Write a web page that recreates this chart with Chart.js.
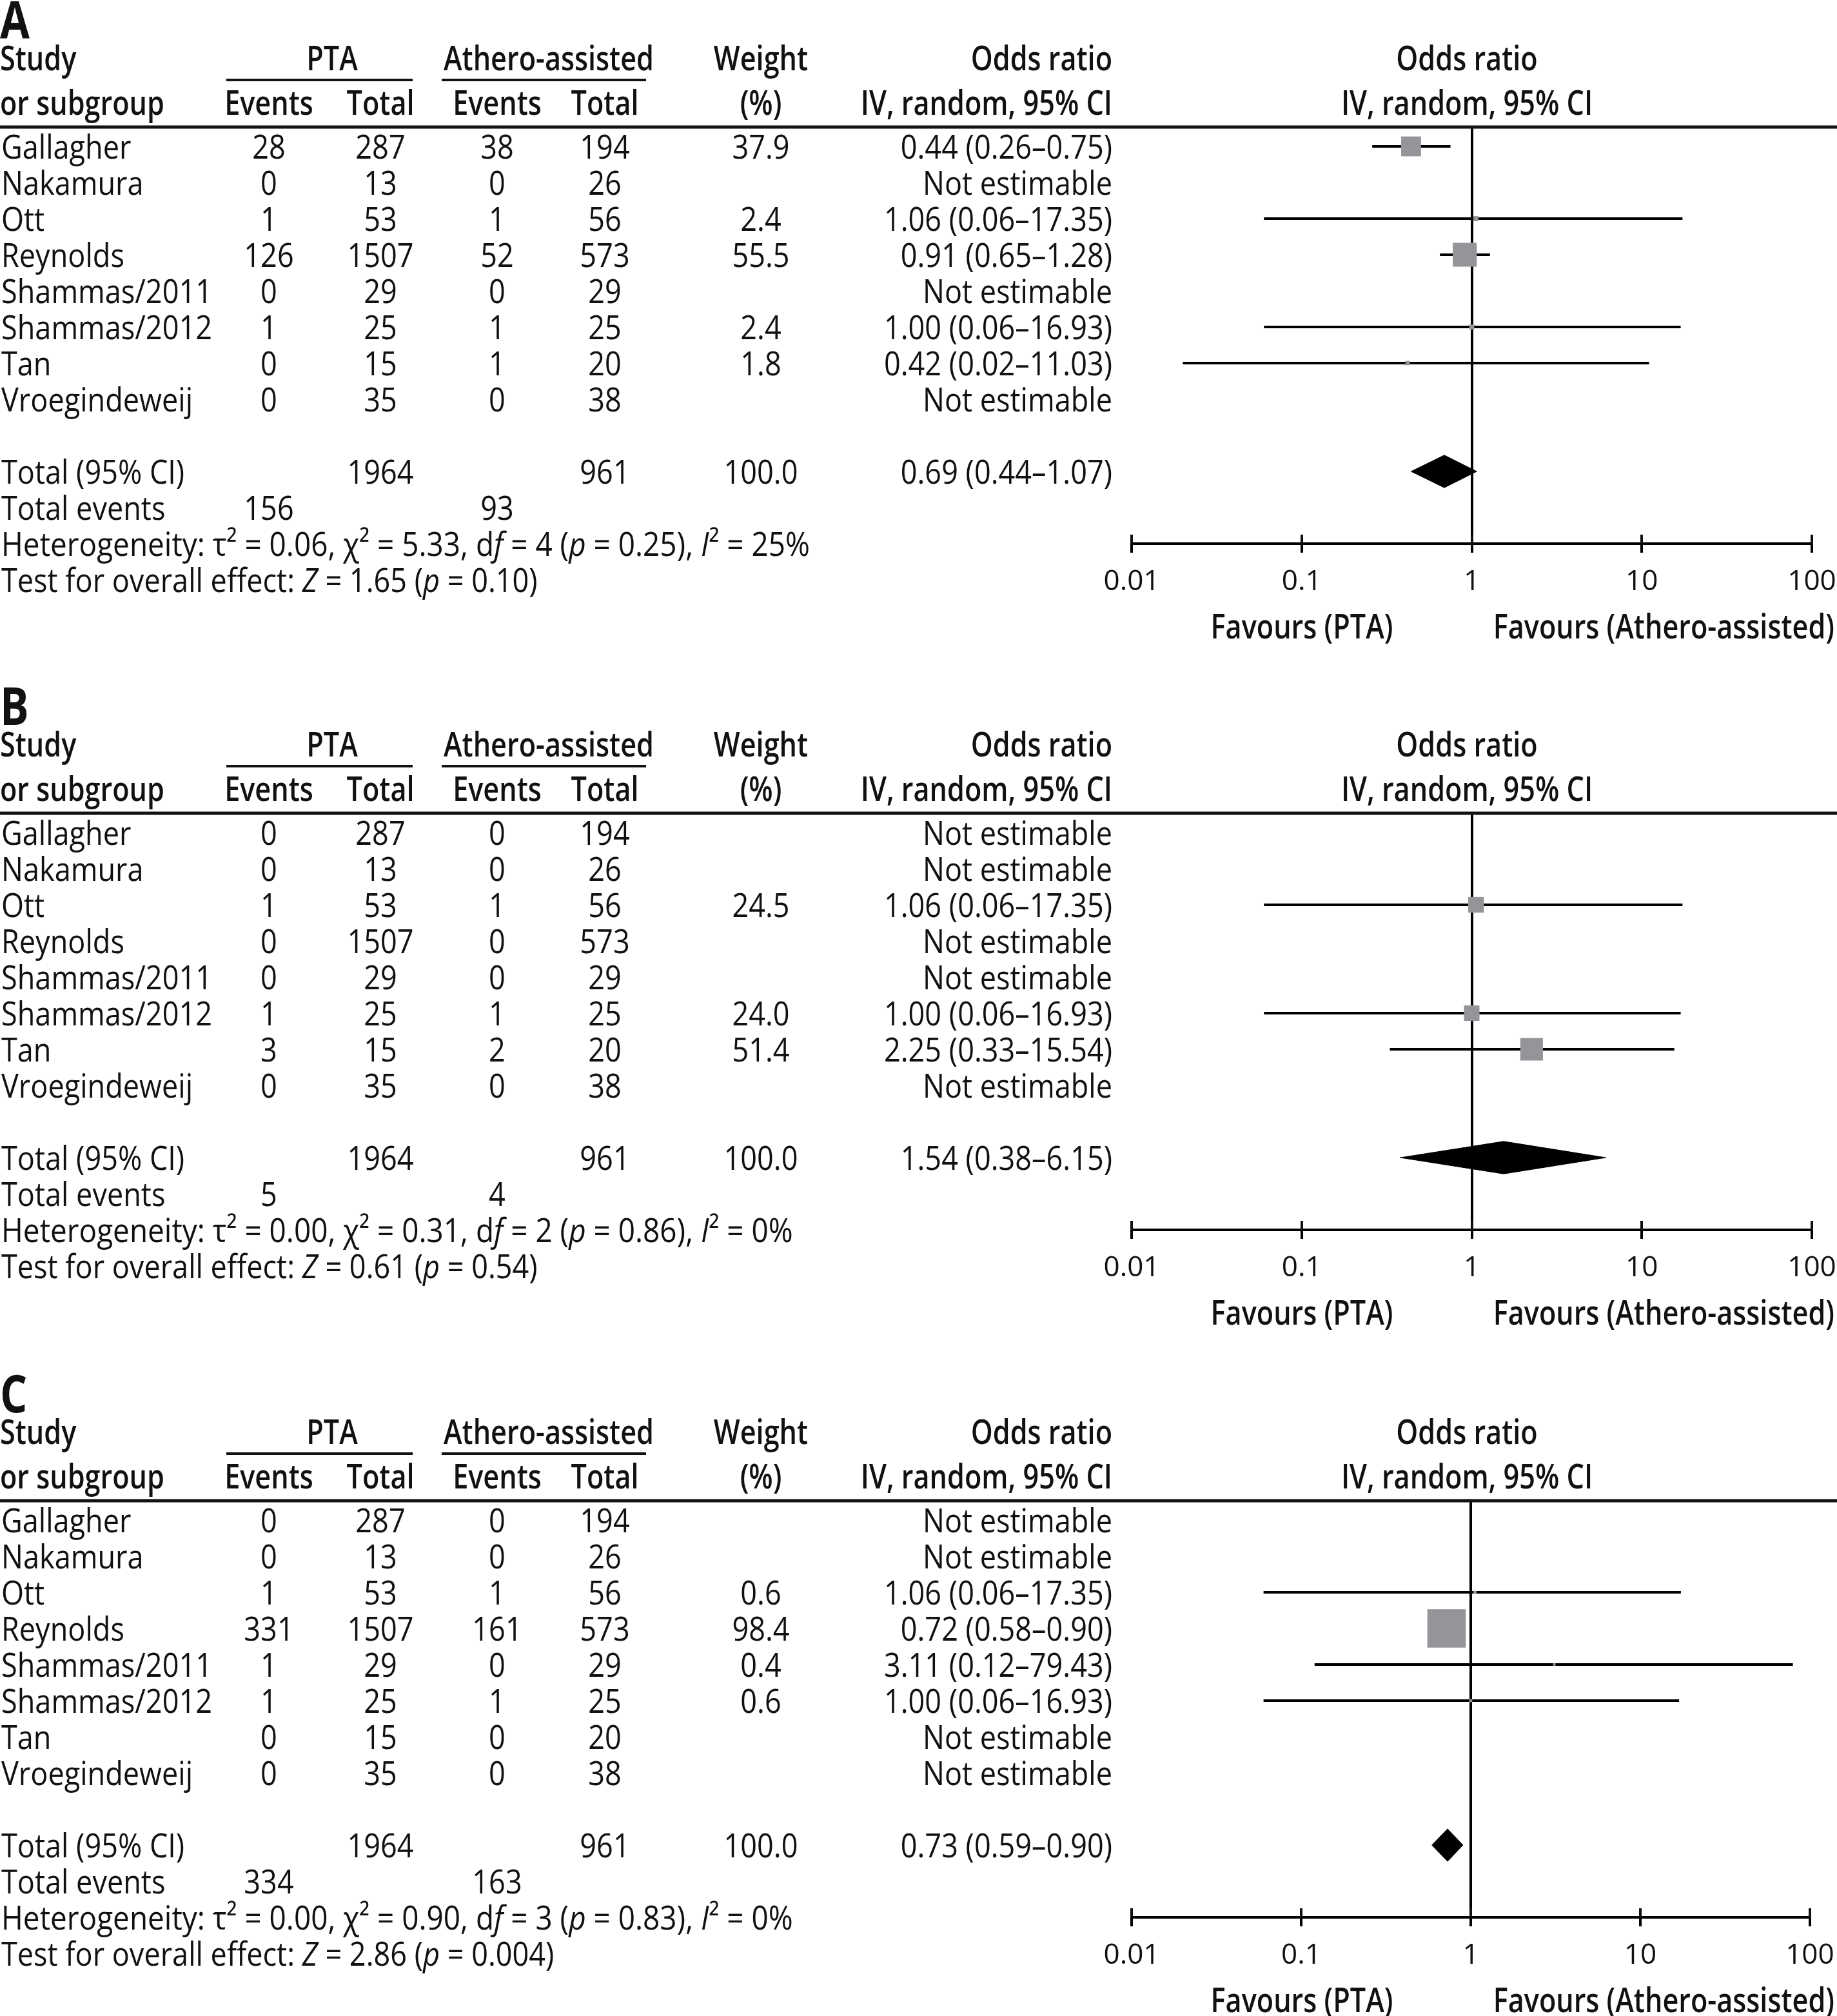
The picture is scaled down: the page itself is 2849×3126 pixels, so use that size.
<!DOCTYPE html>
<html>
<head>
<meta charset="utf-8">
<script src="https://cdn.jsdelivr.net/npm/chart.js@4.4.1/dist/chart.umd.min.js"></script>
<style>
  html, body { margin: 0; padding: 0; background: #fff; }
  .panel { position: absolute; left: 0; }
  canvas { display: block; }
</style>
</head>
<body>
<div class="panel" style="top:0px"><canvas id="chartA" width="2849" height="1064"></canvas></div>
<div class="panel" style="top:1064px"><canvas id="chartB" width="2849" height="1066"></canvas></div>
<div class="panel" style="top:2130px"><canvas id="chartC" width="2849" height="996"></canvas></div>
<script>
/* ---------- data (same 8 studies in every panel) ---------- */
const studies = ['Gallagher', 'Nakamura', 'Ott', 'Reynolds', 'Shammas/2011', 'Shammas/2012', 'Tan', 'Vroegindeweij'];
const ptaTotals = [287, 13, 53, 1507, 29, 25, 15, 35];
const atheroTotals = [194, 26, 56, 573, 29, 25, 20, 38];
const groupTotals = [1964, 961];

/* panel A */
const ptaEventsA = [28, 0, 1, 126, 0, 1, 0, 0];
const atheroEventsA = [38, 0, 1, 52, 0, 1, 1, 0];
const weightA = [37.9, null, 2.4, 55.5, null, 2.4, 1.8, null];
const oddsA = [0.44, null, 1.06, 0.91, null, 1.00, 0.42, null];
const lowerA = [0.26, null, 0.06, 0.65, null, 0.06, 0.02, null];
const upperA = [0.75, null, 17.35, 1.28, null, 16.93, 11.03, null];
const pooledA = [0.69, 0.44, 1.07];
const totalEventsA = [156, 93];
const hetA = ['0.06', '5.33', '4', '0.25', '25%'];
const overallA = ['1.65', '0.10'];

/* panel B */
const ptaEventsB = [0, 0, 1, 0, 0, 1, 3, 0];
const atheroEventsB = [0, 0, 1, 0, 0, 1, 2, 0];
const weightB = [null, null, 24.5, null, null, 24.0, 51.4, null];
const oddsB = [null, null, 1.06, null, null, 1.00, 2.25, null];
const lowerB = [null, null, 0.06, null, null, 0.06, 0.33, null];
const upperB = [null, null, 17.35, null, null, 16.93, 15.54, null];
const pooledB = [1.54, 0.38, 6.15];
const totalEventsB = [5, 4];
const hetB = ['0.00', '0.31', '2', '0.86', '0%'];
const overallB = ['0.61', '0.54'];

/* panel C */
const ptaEventsC = [0, 0, 1, 331, 1, 1, 0, 0];
const atheroEventsC = [0, 0, 1, 161, 0, 1, 0, 0];
const weightC = [null, null, 0.6, 98.4, 0.4, 0.6, null, null];
const oddsC = [null, null, 1.06, 0.72, 3.11, 1.00, null, null];
const lowerC = [null, null, 0.06, 0.58, 0.12, 0.06, null, null];
const upperC = [null, null, 17.35, 0.90, 79.43, 16.93, null, null];
const pooledC = [0.73, 0.59, 0.90];
const totalEventsC = [334, 163];
const hetC = ['0.00', '0.90', '3', '0.83', '0%'];
const overallC = ['2.86', '0.004'];

const tickValues = [0.01, 0.1, 1, 10, 100];
const tickLabels = ['0.01', '0.1', '1', '10', '100'];

/* ---------- layout / style ---------- */
const FONT = '"Open Sans", "Liberation Sans", sans-serif';
const INK = '#111111';
const GREY = '#939598';
const FS = 52;                 // table font size
const ROW0 = 227, ROW_H = 56;  // first study row centre, row pitch
const TOP = 197, AXIS_Y = 843; // header rule, axis line
const AXIS_H = 100;
const TICK = 14;

// condense the font a little, like the original condensed face
const probe = document.createElement('canvas').getContext('2d');
probe.font = '400 ' + FS + 'px ' + FONT;
const sxReg = 835 / probe.measureText('Test for overall effect: Z = 1.65 (p = 0.10)').width;
const sxHet = 1257 / probe.measureText('Heterogeneity: \u03c4\u00b2 = 0.06, \u03c7\u00b2 = 5.33, df = 4 (p = 0.25), I\u00b2 = 25%').width;
probe.font = '600 ' + FS + 'px ' + FONT;
const sxBold = 326 / probe.measureText('Athero-assisted').width;

function txt(ctx, s, x, y, align, weight, size) {
    size = size || FS;
    ctx.save();
    ctx.font = weight + ' ' + size + 'px ' + FONT;
    ctx.translate(x, y + size * 0.357);
    ctx.scale(weight >= 600 ? sxBold : sxReg, 1);
    ctx.textAlign = align;
    ctx.textBaseline = 'alphabetic';
    ctx.fillText(String(s), 0, 0);
    ctx.restore();
}

function richTxt(ctx, runs, x, y, sx) {
    let cx = x;
    for (const [s, st] of runs) {
        ctx.save();
        ctx.font = (st === 'i' ? 'italic ' : '') + '400 ' + FS + 'px ' + FONT;
        const w = ctx.measureText(s).width * sx;
        ctx.translate(cx, y + FS * 0.357);
        ctx.scale(sx, 1);
        ctx.textAlign = 'left';
        ctx.textBaseline = 'alphabetic';
        ctx.fillText(s, 0, 0);
        ctx.restore();
        cx += w;
    }
}

function hline(ctx, x1, x2, y, w) {
    ctx.beginPath();
    ctx.lineWidth = w;
    ctx.moveTo(x1, y);
    ctx.lineTo(x2, y);
    ctx.stroke();
}

function orText(o, l, h) {
    if (o == null) return 'Not estimable';
    return o.toFixed(2) + ' (' + l.toFixed(2) + '\u2013' + h.toFixed(2) + ')';
}

/* draws the table part of the forest plot */
function tablePlugin(p) {
    return {
        id: 'table' + p.letter,
        afterDraw(chart) {
            const ctx = chart.ctx;
            const ys = chart.scales.y;
            const rowY = r => ys.getPixelForValue(r);
            ctx.save();
            ctx.fillStyle = INK;
            ctx.strokeStyle = INK;

            txt(ctx, p.letter, 0, 31, 'left', 700, 80);

            // header
            txt(ctx, 'Study', 0, 90, 'left', 600);
            txt(ctx, 'PTA', 515, 90, 'center', 600);
            txt(ctx, 'Athero-assisted', 851, 90, 'center', 600);
            txt(ctx, 'Weight', 1180, 90, 'center', 600);
            txt(ctx, 'Odds ratio', 1725, 90, 'right', 600);
            txt(ctx, 'Odds ratio', 2275, 90, 'center', 600);
            hline(ctx, 351, 640, 124, 4);
            hline(ctx, 685, 1002, 124, 4);
            txt(ctx, 'or subgroup', 0, 159, 'left', 600);
            txt(ctx, 'Events', 417, 159, 'center', 600);
            txt(ctx, 'Total', 590, 159, 'center', 600);
            txt(ctx, 'Events', 771, 159, 'center', 600);
            txt(ctx, 'Total', 938, 159, 'center', 600);
            txt(ctx, '(%)', 1180, 159, 'center', 600);
            txt(ctx, 'IV, random, 95% CI', 1725, 159, 'right', 600);
            txt(ctx, 'IV, random, 95% CI', 2275, 159, 'center', 600);
            hline(ctx, 0, chart.width, TOP, 5);

            // study rows
            studies.forEach((name, i) => {
                const y = rowY(i);
                txt(ctx, name, 2, y, 'left', 400);
                txt(ctx, p.ptaEvents[i], 417, y, 'center', 400);
                txt(ctx, ptaTotals[i], 590, y, 'center', 400);
                txt(ctx, p.atheroEvents[i], 771, y, 'center', 400);
                txt(ctx, atheroTotals[i], 938, y, 'center', 400);
                if (p.weight[i] != null) txt(ctx, p.weight[i].toFixed(1), 1180, y, 'center', 400);
                txt(ctx, orText(p.odds[i], p.lower[i], p.upper[i]), 1725, y, 'right', 400);
            });

            // totals
            let y = rowY(9);
            txt(ctx, 'Total (95% CI)', 2, y, 'left', 400);
            txt(ctx, groupTotals[0], 590, y, 'center', 400);
            txt(ctx, groupTotals[1], 938, y, 'center', 400);
            txt(ctx, '100.0', 1180, y, 'center', 400);
            txt(ctx, orText(p.pooled[0], p.pooled[1], p.pooled[2]), 1725, y, 'right', 400);
            y = rowY(10);
            txt(ctx, 'Total events', 2, y, 'left', 400);
            txt(ctx, p.events[0], 417, y, 'center', 400);
            txt(ctx, p.events[1], 771, y, 'center', 400);

            const h = p.het;
            richTxt(ctx, [
                ['Heterogeneity: \u03c4\u00b2 = ' + h[0] + ', \u03c7\u00b2 = ' + h[1] + ', d', 'n'],
                ['f', 'i'], [' = ' + h[2] + ' (', 'n'], ['p', 'i'],
                [' = ' + h[3] + '), ', 'n'], ['I', 'i'], ['\u00b2 = ' + h[4], 'n']
            ], 2, rowY(11), sxHet);
            richTxt(ctx, [
                ['Test for overall effect: ', 'n'], ['Z', 'i'],
                [' = ' + p.overall[0] + ' (', 'n'], ['p', 'i'], [' = ' + p.overall[1] + ')', 'n']
            ], 2, rowY(12), sxReg);

            // favours labels under the axis
            txt(ctx, 'Favours (PTA)', 2019, 971, 'center', 600);
            txt(ctx, 'Favours (Athero-assisted)', 2845, 971, 'right', 600);

            // upper half of the axis tick marks
            const xs = chart.scales.x;
            const b = chart.chartArea.bottom;
            ctx.lineWidth = 4;
            for (const v of tickValues) {
                const px = Math.round(xs.getPixelForValue(v));
                ctx.beginPath();
                ctx.moveTo(px, b - TICK);
                ctx.lineTo(px, b);
                ctx.stroke();
            }
            ctx.restore();
        }
    };
}

/* build one forest plot */
function makeForest(p) {
    const idx = studies.map((s, i) => i).filter(i => p.odds[i] != null);
    const datasets = [];

    // study squares, area ~ weight
    datasets.push({
        type: 'scatter',
        order: 0,
        data: idx.map(i => ({ x: p.odds[i], y: i })),
        pointStyle: 'rect',
        pointRadius: idx.map(i => p.boxScale * Math.sqrt(p.weight[i]) / Math.SQRT2),
        pointBackgroundColor: GREY,
        pointBorderWidth: 0,
        showLine: false
    });

    // pooled diamond
    const [est, lo, hi] = p.pooled;
    datasets.push({
        type: 'scatter',
        order: 0,
        showLine: true,
        data: [{ x: lo, y: 9 }, { x: est, y: 9 - 0.45 }, { x: hi, y: 9 }, { x: est, y: 9 + 0.45 }, { x: lo, y: 9 }],
        borderColor: '#000',
        borderWidth: 1,
        backgroundColor: '#000',
        fill: 'shape',
        pointRadius: 0
    });

    // confidence interval whiskers
    for (const i of idx) {
        datasets.push({
            type: 'scatter',
            order: 1,
            showLine: true,
            data: [{ x: p.lower[i], y: i }, { x: p.upper[i], y: i }],
            borderColor: '#000',
            borderWidth: 4,
            pointRadius: 0
        });
    }

    return new Chart(document.getElementById(p.id), {
        type: 'scatter',
        data: { datasets: datasets },
        options: {
            responsive: false,
            animation: false,
            devicePixelRatio: 1,
            events: [],
            layout: { padding: { left: 1755, right: 39, top: TOP, bottom: p.height - AXIS_Y - AXIS_H } },
            plugins: { legend: { display: false }, tooltip: { enabled: false } },
            scales: {
                x: {
                    type: 'logarithmic',
                    min: 0.01,
                    max: 100,
                    afterBuildTicks: s => { s.ticks = tickValues.map(v => ({ value: v })); },
                    afterFit: s => { s.height = AXIS_H; s.paddingLeft = 0; s.paddingRight = 0; },
                    border: { display: true, color: '#000', width: 4 },
                    grid: {
                        drawOnChartArea: true,
                        color: c => (c.tick && c.tick.value === 1) ? '#000' : 'rgba(0,0,0,0)',
                        lineWidth: 4,
                        drawTicks: true,
                        tickLength: TICK,
                        tickColor: '#000',
                        tickWidth: 4
                    },
                    ticks: {
                        autoSkip: false,
                        maxRotation: 0,
                        padding: 19,
                        color: INK,
                        font: { family: FONT, size: 44 },
                        callback: (v, i) => tickLabels[i]
                    }
                },
                y: {
                    type: 'linear',
                    display: false,
                    reverse: true,
                    min: (TOP - ROW0) / ROW_H,
                    max: (AXIS_Y - ROW0) / ROW_H
                }
            }
        },
        plugins: [tablePlugin(p)]
    });
}

const panels = [
    { id: 'chartA', letter: 'A', height: 1064, ptaEvents: ptaEventsA, atheroEvents: atheroEventsA, weight: weightA,
      odds: oddsA, lower: lowerA, upper: upperA, pooled: pooledA, events: totalEventsA, het: hetA, overall: overallA, boxScale: 5.0 },
    { id: 'chartB', letter: 'B', height: 1066, ptaEvents: ptaEventsB, atheroEvents: atheroEventsB, weight: weightB,
      odds: oddsB, lower: lowerB, upper: upperB, pooled: pooledB, events: totalEventsB, het: hetB, overall: overallB, boxScale: 4.9 },
    { id: 'chartC', letter: 'C', height: 996, ptaEvents: ptaEventsC, atheroEvents: atheroEventsC, weight: weightC,
      odds: oddsC, lower: lowerC, upper: upperC, pooled: pooledC, events: totalEventsC, het: hetC, overall: overallC, boxScale: 6.0 }
];

panels.forEach(makeForest);
</script>
</body>
</html>
